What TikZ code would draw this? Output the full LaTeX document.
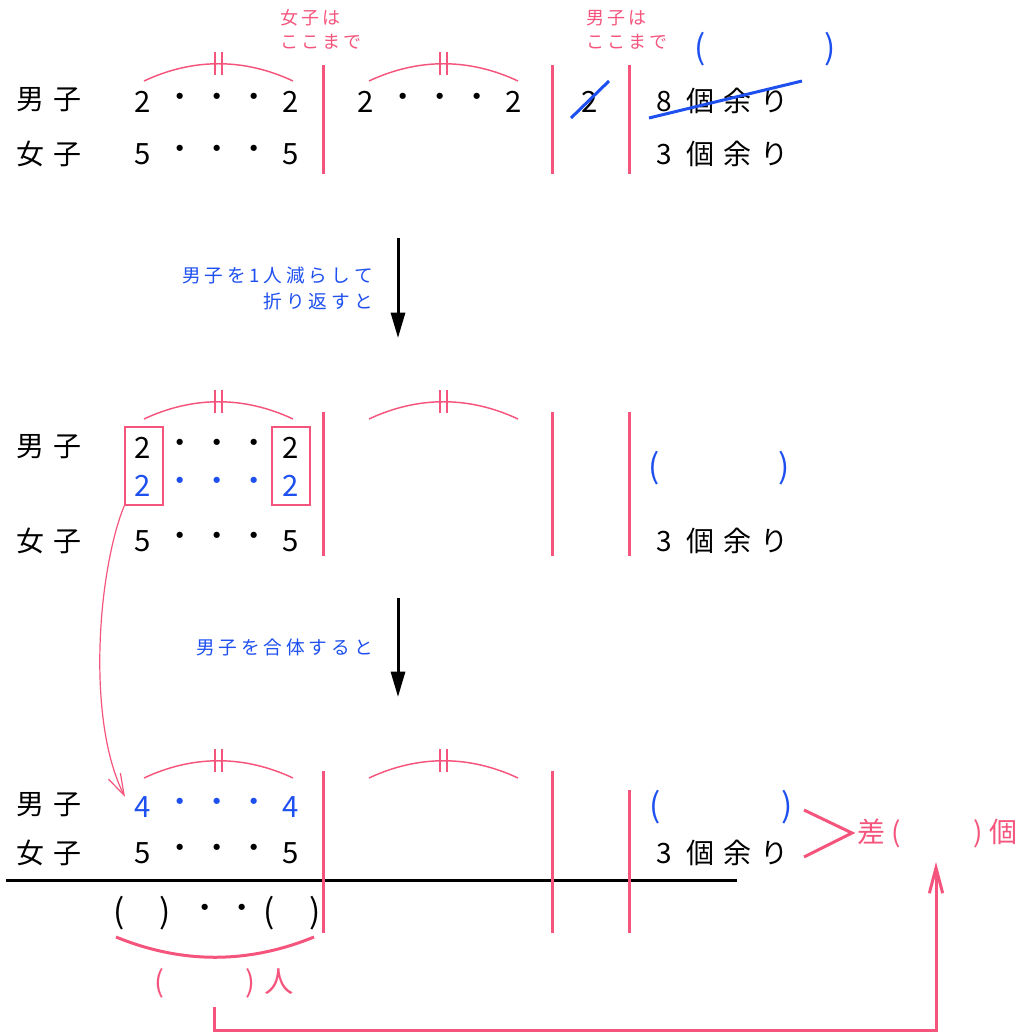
\documentclass[tikz,border=0pt]{standalone}
\usepackage{fontspec}
\setmainfont{Noto Sans CJK JP}
\usetikzlibrary{arrows.meta}
\definecolor{pk}{RGB}{245,85,125}
\definecolor{bl}{RGB}{30,80,240}
\newlength\jgap
\makeatletter
\def\jtrack#1{\jtrack@a#1\relax}
\def\jtrack@a#1#2{#1\ifx\relax#2\else\kern\jgap\expandafter\jtrack@a\expandafter#2\fi}
\makeatother
\tikzset{
  big/.style={inner sep=0pt, font={\fontsize{21}{24}\selectfont\jgap=6.9pt}},
  paren/.style={inner sep=0pt, font={\fontsize{25}{28}\selectfont}},
  small/.style={inner sep=0pt, font={\fontsize{14}{16}\selectfont\jgap=2.9pt}},
  tiny/.style={inner sep=0pt, font={\fontsize{13.5}{15}\selectfont\jgap=2.3pt}},
  num/.style={inner sep=0pt, font={\fontsize{22}{24}\selectfont}},
  divider/.style={pk, line width=2.25pt},
  arcline/.style={pk, line width=1.1pt},
  pkbox/.style={draw=pk, line width=1.1pt, minimum width=28.5pt, minimum height=58.5pt, inner sep=0pt},
  bigarrow/.style={line width=2.25pt, -{Triangle[length=19pt,width=10.5pt]}},
}
% digit . . . digit row
\newcommand\numrow[5]{%
  \node[num,text=#4] (#1a) at (#2,#3) {#5};
  \node[num,text=#4] (#1b) at (#2+37,#3-2) {・};
  \node[num,text=#4] (#1c) at (#2+74,#3-2) {・};
  \node[num,text=#4] (#1d) at (#2+111,#3-2) {・};
  \node[num,text=#4] (#1e) at (#2+148,#3) {#5};
}
% arc with double tick
\newcommand\arcmark[2]{%
  \draw[arcline] (#1,#2) .. controls (#1+49,#2-23) and (#1+100,#2-23) .. (#1+149,#2);
  \draw[arcline] (#1+71,#2-29) -- (#1+71,#2-6);
  \draw[arcline] (#1+78,#2-29) -- (#1+78,#2-6);
}
\begin{document}
\begin{tikzpicture}[x=0.75pt,y=-0.75pt]
\fill[white] (0,0) rectangle (1029,1032);
\useasboundingbox (0,0) rectangle (1029,1032);

%================ top section
\node[big] (lm1) at (49,100) {\jtrack{男子}};
\node[big] (lf1) at (49,154) {\jtrack{女子}};
\numrow{ma}{143}{102}{black}{2}
\numrow{fa}{143}{154}{black}{5}
\numrow{mb}{366}{102}{black}{2}
\node[num] (mc) at (590,102) {2};
\draw[bl, line width=2.25pt] (571,118) -- (609,81);
\arcmark{144}{81}
\arcmark{369}{81}
\draw[divider] (323,65) -- (323,174);
\draw[divider] (552,65) -- (552,174);
\draw[divider] (629,65) -- (629,174);
\node[tiny, text=pk, anchor=west] (gq1) at (280,18) {\jtrack{女子は}};
\node[tiny, text=pk, anchor=west] (gq2) at (280,42) {\jtrack{ここまで}};
\node[tiny, text=pk, anchor=west] (bq1) at (586,18) {\jtrack{男子は}};
\node[tiny, text=pk, anchor=west] (bq2) at (586,42) {\jtrack{ここまで}};
\node[paren, text=bl] (p1) at (765,49) {(\kern89pt)};
\node[big, anchor=west] (r1) at (656,101) {8\kern11pt\jtrack{個余り}};
\draw[bl, line width=2.25pt] (649,118) -- (802,81);
\node[big, anchor=west] (r2) at (656,154) {3\kern11pt\jtrack{個余り}};

%================ arrow 1
\coordinate (a1s) at (398,238);
\coordinate (a1e) at (398,338);
\draw[bigarrow] (a1s) -- (a1e);
\node[small, text=bl, anchor=east] (t1) at (373,275) {\jtrack{男子を1人減らして}};
\node[small, text=bl, anchor=east] (t2) at (373,301) {\jtrack{折り返すと}};

%================ middle section
\node[big] (lm2) at (49,447) {\jtrack{男子}};
\node[big] (lf2) at (49,541) {\jtrack{女子}};
\numrow{mm}{143}{448}{black}{2}
\numrow{mn}{143}{486}{bl}{2}
\numrow{fm}{143}{541}{black}{5}
\node[pkbox] (lbox) at (144,466) {};
\node[pkbox] (rbox) at (291,466) {};
\arcmark{144}{419}
\arcmark{369}{419}
\draw[divider] (323,412) -- (323,556);
\draw[divider] (552,412) -- (552,556);
\draw[divider] (629,412) -- (629,556);
\node[paren, text=bl] (p2) at (719,468) {(\kern89pt)};
\node[big, anchor=west] (r3) at (656,541) {3\kern11pt\jtrack{個余り}};

%================ arrow 2
\coordinate (a2s) at (398,598);
\coordinate (a2e) at (398,697);
\draw[bigarrow] (a2s) -- (a2e);
\node[small, text=bl, anchor=east] (t3) at (373,647) {\jtrack{男子を合体すると}};

%================ bottom section
\node[big] (lm3) at (49,805) {\jtrack{男子}};
\node[big] (lf3) at (49,853) {\jtrack{女子}};
\numrow{mz}{143}{807}{bl}{4}
\numrow{fz}{143}{853}{black}{5}
\arcmark{144}{778}
\arcmark{369}{778}
\draw[black, line width=2.25pt] (6,880) -- (737,880);
\draw[divider] (323,771) -- (323,933);
\draw[divider] (552,771) -- (552,933);
\draw[divider] (629,790) -- (629,933);
\node[paren, text=bl] (p3) at (721,807) {(\kern90pt)};
\node[big, anchor=west] (r4) at (656,853) {3\kern11pt\jtrack{個余り}};
\draw[pk, line width=2.25pt] (804,810) -- (852,833) -- (804,857);
\node[big, text=pk, anchor=west] (diff) at (857,833) {差\kern5pt(\kern54pt)\kern5pt個};

\node[paren] (q1) at (142,913) {(\kern26pt)};
\node[num] (qd1) at (205,911) {・};
\node[num] (qd2) at (242,911) {・};
\node[paren] (q2) at (292,913) {(\kern26pt)};
\draw[pk, line width=2.25pt] (116,937) .. controls (182,964) and (248,964) .. (314,937);
\node[text=pk, inner sep=0pt, font={\fontsize{22}{24}\selectfont}, anchor=west] (ppl) at (154,983) {(\kern61pt)\kern7pt人};

% connectors
\coordinate (ctip) at (125,797);
\draw[pk, line width=0.9pt, -{Straight Barb[length=16pt,width=10pt]}] (lbox.south west) .. controls (98,570) and (86,720) .. (ctip);
\coordinate (pstart) at (214,1007);
\coordinate (pend) at (936,862);
\draw[pk, line width=2.25pt, -{Straight Barb[length=19pt,width=10pt]}] (pstart) -- (pstart |- 0,1030) -| (pend);
\end{tikzpicture}
\end{document}
